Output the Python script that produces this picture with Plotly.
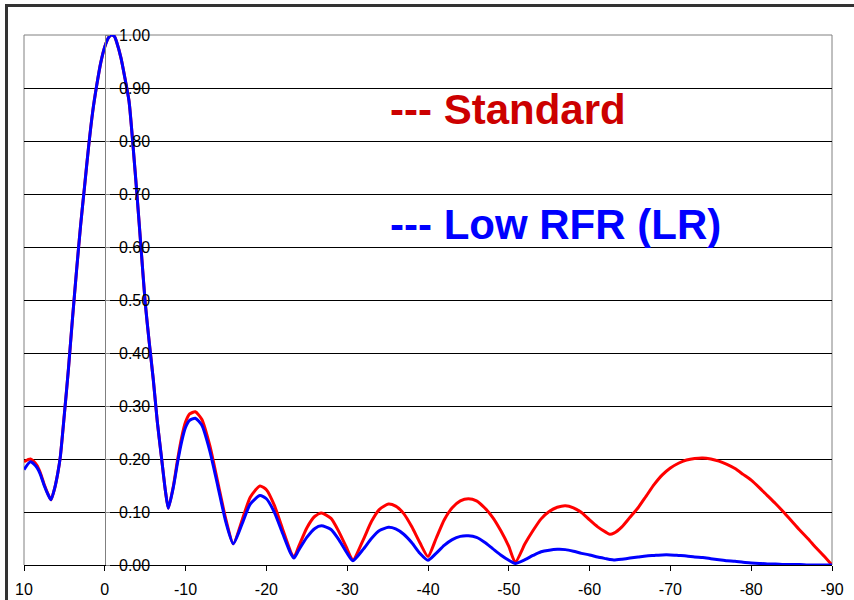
import plotly.graph_objects as go

# Angle (degrees) and normalized response values
ANGLE = [10, 9.2, 8.4, 8, 7.5, 7, 6.66, 6.2, 5.8, 5.5, 5, 4.5, 4, 3.5, 3, 2.5, 2, 1.5,
         1, 0.5, 0, -0.5, -0.8, -1.2, -1.5, -2, -2.5, -3, -3.5, -4, -4.5, -5, -5.5,
         -6, -6.5, -7, -7.5, -7.86, -8.5, -9, -9.5, -10, -10.5, -11.2, -12, -13,
         -14, -15, -15.9, -17, -18, -19.2, -20, -21, -22, -23, -23.4, -24, -25, -26,
         -26.8, -28, -29, -30, -30.7, -32, -33, -34, -35.1, -36, -37, -38, -39, -40,
         -41, -42, -43, -44, -45, -46, -47, -48, -49, -50, -50.8, -52, -53, -54, -55,
         -56, -57, -58, -59, -60, -61, -62, -62.5, -63, -64, -65, -66, -67, -68,
         -69, -70, -71, -72, -73, -74, -75, -76, -77, -78, -79, -80, -81, -82,
         -83, -84, -85, -86, -87, -88, -89, -90]

STANDARD = [0.195, 0.200, 0.188, 0.175, 0.152, 0.133, 0.123, 0.145, 0.175, 0.205,
            0.285, 0.37, 0.465, 0.555, 0.64, 0.715, 0.79, 0.855,
            0.905, 0.948, 0.978, 0.996, 1.0, 0.997, 0.985, 0.957, 0.918, 0.875,
            0.79, 0.695, 0.595, 0.495, 0.42,
            0.35, 0.27, 0.205, 0.14, 0.107, 0.15, 0.198, 0.24, 0.27, 0.285, 0.289,
            0.275, 0.225,
            0.155, 0.085, 0.04, 0.085, 0.128, 0.149, 0.142, 0.112, 0.068, 0.025,
            0.014, 0.035, 0.07, 0.092,
            0.098, 0.088, 0.062, 0.03, 0.009, 0.048, 0.082, 0.105, 0.115, 0.111,
            0.097, 0.072, 0.042, 0.016,
            0.05, 0.085, 0.108, 0.121, 0.125, 0.121, 0.108, 0.09, 0.065, 0.035,
            0.005, 0.04, 0.065, 0.087, 0.101,
            0.109, 0.112, 0.108, 0.099, 0.085, 0.072, 0.062, 0.058, 0.06, 0.072,
            0.09, 0.108, 0.13, 0.152,
            0.17, 0.183, 0.192, 0.198, 0.201, 0.202, 0.200, 0.196, 0.19, 0.182,
            0.171, 0.16, 0.146, 0.131,
            0.116, 0.100, 0.083, 0.066, 0.05, 0.033, 0.017, 0.0]

LOW_RFR = [0.18, 0.195, 0.184, 0.172, 0.15, 0.132, 0.123, 0.145, 0.175, 0.205,
           0.285, 0.37, 0.465, 0.555, 0.64, 0.715, 0.79, 0.855,
           0.905, 0.948, 0.978, 0.996, 1.0, 0.997, 0.985, 0.957, 0.918, 0.875,
           0.79, 0.695, 0.595, 0.495, 0.42,
           0.35, 0.27, 0.205, 0.14, 0.107, 0.148, 0.193, 0.232, 0.26, 0.273, 0.277,
           0.264, 0.215,
           0.148, 0.08, 0.04, 0.078, 0.115, 0.131, 0.125, 0.099, 0.06, 0.022,
           0.013, 0.028, 0.052, 0.069,
           0.074, 0.067, 0.047, 0.022, 0.008, 0.03, 0.05, 0.065, 0.071, 0.068,
           0.058, 0.042, 0.022, 0.009,
           0.022, 0.037, 0.048, 0.054, 0.055, 0.052, 0.043, 0.031, 0.019, 0.009,
           0.003, 0.01, 0.018, 0.025, 0.028,
           0.0295, 0.029, 0.026, 0.022, 0.019, 0.015, 0.012, 0.0105, 0.0095, 0.011,
           0.013, 0.015, 0.017, 0.018,
           0.019, 0.019, 0.018, 0.017, 0.015, 0.014, 0.012, 0.01, 0.008, 0.007,
           0.005, 0.004, 0.003, 0.002,
           0.002, 0.001, 0.001, 0.001, 0.0, 0.0, 0.0, 0.0]

X_TICKS = [10, 0, -10, -20, -30, -40, -50, -60, -70, -80, -90]
X_TICK_TEXT = ["10", "0", "-10", "-20", "-30", "-40", "-50", "-60", "-70", "-80", "-90"]
Y_TICKS = [0.0, 0.1, 0.2, 0.3, 0.4, 0.5, 0.6, 0.7, 0.8, 0.9, 1.0]
Y_TICK_TEXT = ["0.00", "0.10", "0.20", "0.30", "0.40", "0.50", "0.60", "0.70", "0.80", "0.90", "1.00"]

assert len(ANGLE) == len(STANDARD) == len(LOW_RFR)

fig = go.Figure()
fig.add_trace(go.Scatter(x=ANGLE, y=STANDARD, mode="lines", name="Standard",
                         line=dict(color="#FF0000", width=3, shape="spline", smoothing=0.6)))
fig.add_trace(go.Scatter(x=ANGLE, y=LOW_RFR, mode="lines", name="Low RFR (LR)",
                         line=dict(color="#0000FF", width=3, shape="spline", smoothing=0.6)))

W, H = 854, 600
L, R, T, B = 24, 22, 35, 35
pw, ph = W - L - R, H - T - B


def px_x(p):
    return (p - L) / pw


def px_y(p):
    return (H - B - p) / ph


fig.update_layout(
    width=W, height=H,
    margin=dict(l=L, r=R, t=T, b=B, autoexpand=False),
    paper_bgcolor="white", plot_bgcolor="white",
    showlegend=False,
    font=dict(family="Liberation Sans, Arial, sans-serif", size=16, color="black"),
    xaxis=dict(range=[10, -90], tickvals=X_TICKS, ticktext=X_TICK_TEXT,
               showgrid=False, zeroline=False, showline=True, linecolor="black",
               linewidth=1, ticks="outside", ticklen=5, tickcolor="black",
               ticklabelstandoff=5, automargin=False, tickfont=dict(size=16)),
    yaxis=dict(range=[0, 1.0], tickvals=Y_TICKS, ticktext=Y_TICK_TEXT,
               anchor="free", position=px_x(L + pw * 0.1), side="right",
               showgrid=True, gridcolor="black", gridwidth=1, zeroline=False,
               showline=True, linecolor="#808080", linewidth=1,
               ticks="outside", ticklen=4, tickcolor="#808080", automargin=False,
               ticklabelstandoff=6, tickfont=dict(size=16)),
)

# plot-area border (gray) on left, top and right
for x0, y0, x1, y1 in [(0, 0, 0, 1), (0, 1, 1, 1), (1, 0, 1, 1)]:
    fig.add_shape(type="line", xref="paper", yref="paper", x0=x0, y0=y0, x1=x1, y1=y1,
                  line=dict(color="#808080", width=1), layer="between")

# outer dark frame (left and top edges)
fig.add_shape(type="line", xref="paper", yref="paper",
              x0=px_x(6.5), y0=px_y(H + 5), x1=px_x(6.5), y1=px_y(4),
              line=dict(color="#333333", width=3))
fig.add_shape(type="line", xref="paper", yref="paper",
              x0=px_x(5), y0=px_y(5.5), x1=px_x(W + 5), y1=px_y(5.5),
              line=dict(color="#333333", width=3))

fig.add_annotation(text="<b>--- Standard</b>", xref="paper", yref="paper",
                   x=px_x(388), y=px_y(110), xanchor="left", yanchor="middle",
                   showarrow=False, font=dict(size=42, color="#CC0000"))
fig.add_annotation(text="<b>--- Low RFR (LR)</b>", xref="paper", yref="paper",
                   x=px_x(388), y=px_y(224), xanchor="left", yanchor="middle",
                   showarrow=False, font=dict(size=42, color="#0000FF"))

fig.write_html("out.html", config={"displayModeBar": False},
               post_script="document.body.style.margin='0px';document.body.style.overflow='hidden';")
